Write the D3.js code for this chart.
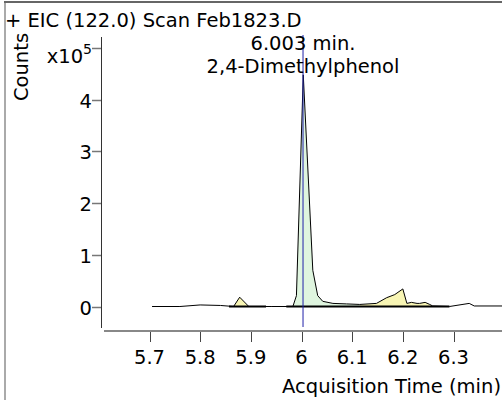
<!DOCTYPE html>
<html><head><meta charset="utf-8">
<script src="https://cdn.jsdelivr.net/npm/d3@7"></script>
<style>body{margin:0;background:#fff}svg{display:block}text{font-family:"DejaVu Sans",Verdana,sans-serif;fill:#000}</style>
</head><body>
<script>
// Data (time in min, counts in x10^5)
const times = [5.705,5.76,5.80,5.84,5.866,5.878,5.896,5.94,5.983,5.990,6.0035,6.0223,6.032,6.042,6.062,6.089,6.115,6.148,6.168,6.184,6.200,6.208,6.217,6.228,6.233,6.244,6.253,6.259,6.292,6.331,6.341,6.396];
const counts = [0,0,0.03,0.02,0,0.18,0,0,0,0.21,4.48,0.70,0.21,0.10,0.06,0.05,0.04,0.06,0.17,0.23,0.34,0.06,0.08,0.06,0.06,0.08,0.04,0.01,0,0.06,0.01,0.01];
const xTicks = [5.7,5.8,5.9,6,6.1,6.2,6.3];
const yTicks = [0,1,2,3,4,5];
const peakTime = 6.003;
const peakLabel = ["6.003 min.","2,4-Dimethylphenol"];
const integrated = [{from:5.866,to:5.896,color:"#f8f5b4"},{from:5.983,to:6.115,color:"#dff5df"},{from:6.115,to:6.259,color:"#f8f5b4"}];
const baselines = [[5.857,5.930],[5.970,6.292]];
const title = "+ EIC (122.0) Scan Feb1823.D";

const W=502,H=400,FS="19.5px";
const svg=d3.select("body").append("svg").attr("width",W).attr("height",H);
const x=d3.scaleLinear().domain([5.7,6.3]).range([149.5,453.5]);
const y=d3.scaleLinear().domain([0,5]).range([306.5,48]);
const data=times.map((t,i)=>({t,v:counts[i]}));

// frame
svg.append("line").attr("x1",5).attr("x2",5).attr("y1",2).attr("y2",H).attr("stroke","#aaa").attr("stroke-width",2);
svg.append("line").attr("x1",4).attr("x2",W).attr("y1",2).attr("y2",2).attr("stroke","#666").attr("stroke-width",2);

svg.append("text").attr("x",5).attr("y",27).style("font-size",FS).text(title);

// fills
const area=d3.area().x(d=>x(d.t)).y0(y(0)).y1(d=>y(d.v));
function interp(t){for(let i=0;i<data.length-1;i++){if(t>=data[i].t&&t<=data[i+1].t){const f=(t-data[i].t)/(data[i+1].t-data[i].t);return data[i].v+f*(data[i+1].v-data[i].v);}}return 0;}
integrated.forEach(r=>{
  const pts=[{t:r.from,v:interp(r.from)}].concat(data.filter(d=>d.t>r.from&&d.t<r.to)).concat([{t:r.to,v:interp(r.to)}]);
  svg.append("path").attr("d",area(pts)).attr("fill",r.color).attr("stroke","none");
});
baselines.forEach(b=>{
  svg.append("line").attr("x1",x(b[0])).attr("x2",x(b[1])).attr("y1",y(0)).attr("y2",y(0)).attr("stroke","#000").attr("stroke-width",2);
});
// curve
svg.append("path").attr("d",d3.line().x(d=>x(d.t)).y(d=>y(d.v))(data)).attr("fill","none").attr("stroke","#000").attr("stroke-width",1);

// peak marker
svg.append("line").attr("x1",x(peakTime)).attr("x2",x(peakTime)).attr("y1",35).attr("y2",327).attr("stroke","#2020a8").attr("stroke-width",1);
peakLabel.forEach((s,i)=>svg.append("text").attr("x",x(peakTime)).attr("y",50+i*23).attr("text-anchor","middle").style("font-size",FS).text(s));

// y axis
svg.append("line").attr("x1",101.5).attr("x2",101.5).attr("y1",37).attr("y2",328).attr("stroke","#333");
const yg=svg.append("g");
yTicks.forEach(v=>{
  yg.append("line").attr("x1",92).attr("x2",101).attr("y1",Math.round(y(v))+0.5).attr("y2",Math.round(y(v))+0.5).attr("stroke","#777").attr("stroke-width",1.5);
  if(v<5) yg.append("text").attr("x",92).attr("y",y(v)+8).attr("text-anchor","end").style("font-size",FS).text(v);
});
const xl=svg.append("text").attr("x",92).attr("y",63).attr("text-anchor","end").style("font-size",FS);
xl.append("tspan").text("x10");
xl.append("tspan").attr("dy",-9).style("font-size","14px").text("5");
svg.append("text").attr("transform","translate(28,67) rotate(-90)").attr("text-anchor","middle").style("font-size",FS).text("Counts");

// x axis
svg.append("line").attr("x1",104).attr("x2",W).attr("y1",331).attr("y2",331).attr("stroke","#888").attr("stroke-width",2);
xTicks.forEach(t=>{
  svg.append("line").attr("x1",Math.round(x(t))+0.5).attr("x2",Math.round(x(t))+0.5).attr("y1",332).attr("y2",342).attr("stroke","#444");
  svg.append("text").attr("x",x(t)).attr("y",364).attr("text-anchor","middle").style("font-size",FS).text(d3.format("")(t));
});
svg.append("text").attr("x",501).attr("y",393).attr("text-anchor","end").style("font-size",FS).text("Acquisition Time (min)");
</script>
</body></html>
